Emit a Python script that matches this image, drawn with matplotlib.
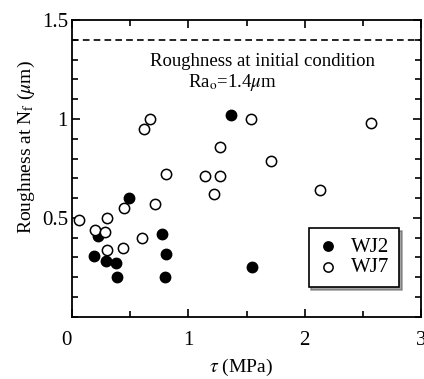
import matplotlib
matplotlib.use("Agg")
import matplotlib.pyplot as plt
from matplotlib.ticker import MultipleLocator
from matplotlib.transforms import ScaledTranslation

plt.rcParams['font.family'] = ['Liberation Serif', 'DejaVu Serif']
plt.rcParams['mathtext.fontset'] = 'stix'

# WJ2 (filled circles)
wj2_tau = [1.37, 0.49, 0.22, 0.77, 0.19, 0.29, 0.38, 0.39, 0.81, 0.80, 1.55]
wj2_ra = [1.02, 0.60, 0.41, 0.42, 0.31, 0.28, 0.27, 0.20, 0.32, 0.20, 0.25]

# WJ7 (open circles)
wj7_tau = [0.62, 0.67, 1.54, 2.57, 1.27, 1.71, 0.81, 1.14, 1.27, 1.22, 2.13,
           0.06, 0.20, 0.30, 0.28, 0.30, 0.45, 0.44, 0.60, 0.71]
wj7_ra = [0.95, 1.00, 1.00, 0.98, 0.86, 0.79, 0.72, 0.71, 0.71, 0.62, 0.64,
          0.49, 0.44, 0.50, 0.43, 0.34, 0.55, 0.35, 0.40, 0.57]

ra_initial = 1.4

fig = plt.figure(figsize=(4.24, 3.79), dpi=100)
ax = fig.add_axes([0.170, 0.164, 0.823, 0.783])

ax.scatter(wj2_tau, wj2_ra, s=55, facecolor='black', edgecolor='black',
           linewidth=1.1, label='WJ2', zorder=3)
ax.scatter(wj7_tau, wj7_ra, s=55, facecolor='white', edgecolor='black',
           linewidth=1.1, label='WJ7', zorder=3)

ax.axhline(ra_initial, color='black', linestyle=(0, (4, 2.5)), linewidth=1.2)
ax.text(1.64, 1.29, 'Roughness at initial condition', ha='center', va='center',
        fontsize=13.5)
ax.text(1.0, 1.185, r'Ra$_{\mathrm{o}}$=1.4$\mu$m', ha='left', va='center',
        fontsize=13.5)

ax.set_xlim(0, 3)
ax.set_ylim(0, 1.5)
ax.set_xticks([0, 1, 2, 3])
ax.set_xticklabels(['0', '1', '2', '3'])
ax.set_yticks([0.5, 1.0, 1.5])
ax.set_yticklabels(['0.5', '1', '1.5'])
ax.xaxis.set_minor_locator(MultipleLocator(0.5))
ax.yaxis.set_minor_locator(MultipleLocator(0.1))
ax.tick_params(which='both', direction='in', top=True, right=True,
               labelsize=15, width=1.2)
ax.tick_params(which='major', length=6)
ax.tick_params(which='minor', length=4)
ax.tick_params(axis='x', which='major', pad=10)
ax.tick_params(axis='y', which='major', pad=3)
for s in ax.spines.values():
    s.set_linewidth(1.3)

# the "0" sits a little left of the corner
lbl0 = ax.get_xticklabels()[0]
lbl0.set_transform(lbl0.get_transform() + ScaledTranslation(-0.06, 0, fig.dpi_scale_trans))

ax.set_xlabel(r'$\tau$ (MPa)', fontsize=14, labelpad=4)
ax.set_ylabel(r'Roughness at N$_\mathrm{f}$ ($\mu$m)', fontsize=14)
ax.yaxis.set_label_coords(-0.10, 0.572)
ax.xaxis.set_label_coords(0.483, -0.135)

leg = ax.legend(loc='upper left', bbox_to_anchor=(0.678, 0.30), fontsize=15,
                frameon=True, fancybox=False, shadow=True, edgecolor='black',
                handlelength=1.0, handletextpad=0.6, borderpad=0.45,
                labelspacing=0.05, borderaxespad=0, markerscale=0.9,
                framealpha=1)
leg.get_frame().set_linewidth(1.2)

plt.savefig('out.png', dpi=100)
